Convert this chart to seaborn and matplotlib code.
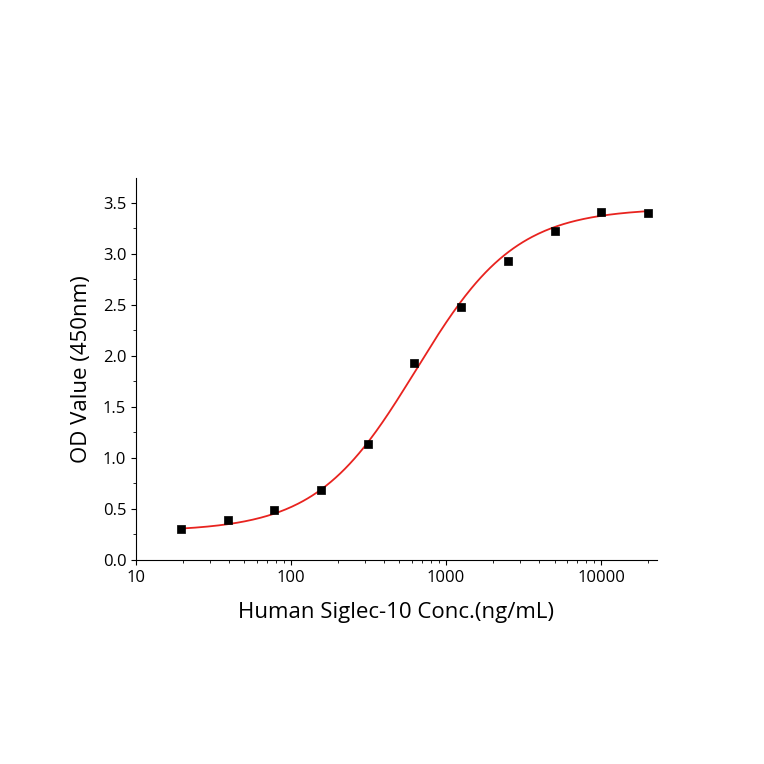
import numpy as np
import matplotlib
matplotlib.use("Agg")
import matplotlib.pyplot as plt
import seaborn as sns

conc = [19.5, 39, 78, 156, 312, 625, 1250, 2500, 5000, 10000, 20000]
od = [0.30, 0.39, 0.49, 0.69, 1.14, 1.93, 2.48, 2.93, 3.23, 3.41, 3.40]
# 4-parameter logistic fit parameters (bottom, top, EC50, hill)
fit_bottom, fit_top, fit_ec50, fit_hill = 0.28, 3.45, 640.0, 1.35

sns.set_style("ticks")
plt.rcParams['font.family'] = ['Open Sans', 'DejaVu Sans']
plt.rcParams['text.color'] = 'black'
plt.rcParams['axes.labelcolor'] = 'black'
plt.rcParams['xtick.color'] = 'black'
plt.rcParams['ytick.color'] = 'black'
fig = plt.figure(figsize=(7.64, 7.64), dpi=100)
ax = fig.add_axes([136/764, 1-560/764, (657-136)/764, (560-178)/764])

xs = np.logspace(np.log10(19.5), np.log10(20000), 300)
ys = fit_bottom + (fit_top - fit_bottom) / (1 + (fit_ec50 / xs) ** fit_hill)
sns.lineplot(x=xs, y=ys, ax=ax, color="#e8231f", lw=1.3)
sns.scatterplot(x=conc, y=od, ax=ax, marker="s", color="black", s=40, edgecolor="black", zorder=3)

ax.set_xscale("log")
ax.set_xlim(10, 22900)
ax.set_ylim(0, 3.745)
ax.set_yticks(np.arange(0, 3.51, 0.5))
ax.set_xticks([10, 100, 1000, 10000])
ax.set_xticklabels(["10", "100", "1000", "10000"])
ax.set_yticklabels([f"{v:.1f}" for v in np.arange(0, 3.51, 0.5)])
ax.yaxis.set_minor_locator(matplotlib.ticker.MultipleLocator(0.25))
ax.tick_params(labelsize=12, direction="out")
for s in ax.spines.values():
    s.set_color("black")
ax.set_xlabel("Human Siglec-10 Conc.(ng/mL)", fontsize=16, labelpad=12)
ax.set_ylabel("OD Value (450nm)", fontsize=16, labelpad=8)
sns.despine(ax=ax)
fig.savefig("out.png", dpi=100)
